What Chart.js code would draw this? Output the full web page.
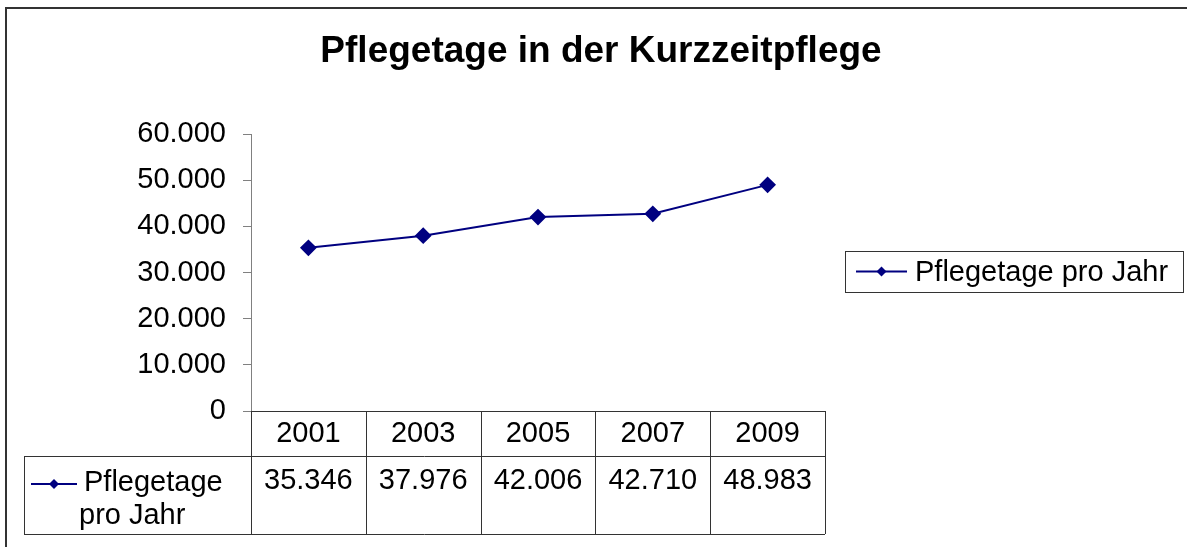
<!DOCTYPE html>
<html>
<head>
<meta charset="utf-8">
<script src="https://cdn.jsdelivr.net/npm/chart.js@4/dist/chart.umd.min.js"></script>
<style>
    body { margin: 0; background: #fff; }
    canvas { display: block; }
</style>
</head>
<body>
<canvas id="careChart" width="1187" height="547"></canvas>
<script>
const chartTitle = 'Pflegetage in der Kurzzeitpflege';
const seriesName = 'Pflegetage pro Jahr';
const years = ['2001', '2003', '2005', '2007', '2009'];
const careDays = [35346, 37976, 42006, 42710, 48983];
const yTicks = [0, 10000, 20000, 30000, 40000, 50000, 60000];

const FONT = '"Liberation Sans", Arial, sans-serif';
const NAVY = '#000080';
const LINE_DARK = '#333333';

// 60000 -> "60.000"
function formatDe(value) {
    return String(value).replace(/\B(?=(\d{3})+(?!\d))/g, '.');
}

function drawDiamond(ctx, x, y, r) {
    ctx.beginPath();
    ctx.moveTo(x, y - r);
    ctx.lineTo(x + r, y);
    ctx.lineTo(x, y + r);
    ctx.lineTo(x - r, y);
    ctx.closePath();
    ctx.fill();
}

function drawLegendSymbol(ctx, x1, x2, y) {
    ctx.strokeStyle = NAVY;
    ctx.lineWidth = 2;
    ctx.beginPath();
    ctx.moveTo(x1, y);
    ctx.lineTo(x2, y);
    ctx.stroke();
    ctx.fillStyle = NAVY;
    drawDiamond(ctx, (x1 + x2) / 2, y, 5);
}

const excelExtras = {
    id: 'excelExtras',
    afterDraw(chart) {
        const ctx = chart.ctx;
        const area = chart.chartArea;
        const xScale = chart.scales.x;
        const colWidth = (area.right - area.left) / years.length;

        ctx.save();

        // outer frame (top and left edge only visible)
        ctx.strokeStyle = LINE_DARK;
        ctx.lineWidth = 2;
        ctx.beginPath();
        ctx.moveTo(6, chart.height);
        ctx.lineTo(6, 8);
        ctx.lineTo(chart.width, 8);
        ctx.stroke();

        // title
        ctx.fillStyle = '#000';
        ctx.font = 'bold 37px ' + FONT;
        ctx.textAlign = 'center';
        ctx.textBaseline = 'middle';
        ctx.fillText(chartTitle, 601, 52);

        // data table below the plot
        const headTop = area.bottom;
        const headBottom = headTop + 45;
        const rowBottom = headBottom + 78;
        const tableLeft = 24;

        ctx.strokeStyle = LINE_DARK;
        ctx.lineWidth = 1;
        ctx.beginPath();
        ctx.moveTo(area.left, headTop + 0.5);
        ctx.lineTo(area.right, headTop + 0.5);
        ctx.moveTo(tableLeft, headBottom + 0.5);
        ctx.lineTo(area.right, headBottom + 0.5);
        ctx.moveTo(tableLeft, rowBottom + 0.5);
        ctx.lineTo(area.right, rowBottom + 0.5);
        ctx.moveTo(tableLeft + 0.5, headBottom);
        ctx.lineTo(tableLeft + 0.5, rowBottom);
        for (let i = 0; i <= years.length; i++) {
            const x = Math.round(area.left + i * colWidth) + 0.5;
            ctx.moveTo(x, headTop);
            ctx.lineTo(x, rowBottom);
        }
        ctx.stroke();

        ctx.fillStyle = '#000';
        ctx.font = '29px ' + FONT;
        ctx.textAlign = 'center';
        ctx.textBaseline = 'middle';
        years.forEach((year, i) => {
            const cx = xScale.getPixelForValue(i);
            ctx.fillText(year, cx, headTop + 23);
            ctx.fillText(formatDe(careDays[i]), cx, headBottom + 25);
        });

        // row label with legend key
        drawLegendSymbol(ctx, 31, 77, headBottom + 28);
        ctx.fillStyle = '#000';
        ctx.textAlign = 'left';
        const words = seriesName.split(' ');
        ctx.fillText(words[0], 84, headBottom + 27);
        ctx.fillText(words.slice(1).join(' '), 79, headBottom + 60);

        // legend box on the right
        const lgX = 845, lgY = 251, lgW = 338, lgH = 41;
        ctx.strokeStyle = LINE_DARK;
        ctx.lineWidth = 1;
        ctx.strokeRect(lgX + 0.5, lgY + 0.5, lgW, lgH);
        drawLegendSymbol(ctx, 856, 907, lgY + lgH / 2);
        ctx.fillStyle = '#000';
        ctx.textAlign = 'left';
        ctx.fillText(seriesName, 915, lgY + lgH / 2 + 1);

        ctx.restore();
    }
};

new Chart(document.getElementById('careChart'), {
    type: 'line',
    data: {
        labels: years,
        datasets: [{
            label: seriesName,
            data: careDays,
            borderColor: NAVY,
            backgroundColor: NAVY,
            borderWidth: 2,
            pointStyle: 'rectRot',
            pointRadius: 7,
            pointHoverRadius: 7,
            pointBackgroundColor: NAVY,
            pointBorderColor: NAVY,
            tension: 0,
            fill: false
        }]
    },
    options: {
        responsive: false,
        animation: false,
        layout: {
            padding: { top: 134, right: 362, bottom: 136, left: 0 }
        },
        plugins: {
            legend: { display: false },
            title: { display: false },
            tooltip: { enabled: false }
        },
        scales: {
            x: {
                display: false,
                offset: true
            },
            y: {
                min: 0,
                max: 60000,
                afterFit: scale => { scale.width = 251; },
                afterBuildTicks: scale => {
                    scale.ticks = yTicks.map(v => ({ value: v }));
                },
                border: { display: true, color: '#808080', width: 1 },
                grid: {
                    drawOnChartArea: false,
                    drawTicks: true,
                    tickLength: 8,
                    color: '#808080'
                },
                ticks: {
                    padding: 17,
                    color: '#000',
                    font: { family: FONT, size: 29 },
                    callback: value => formatDe(value)
                }
            }
        }
    },
    plugins: [excelExtras]
});
</script>
</body>
</html>
